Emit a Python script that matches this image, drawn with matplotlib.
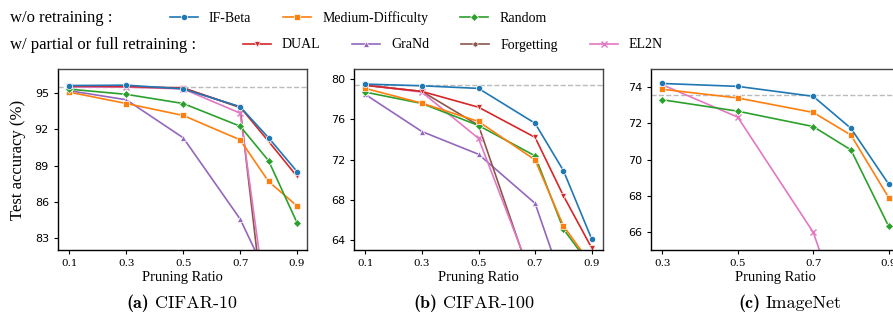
import numpy as np
import matplotlib
matplotlib.use("Agg")
import matplotlib.pyplot as plt

# ---------------- data ----------------
x_cifar = [0.1, 0.3, 0.5, 0.7, 0.8, 0.9]
x_imnet = [0.3, 0.5, 0.7, 0.8, 0.9]

c10_ifbeta = [95.63, 95.66, 95.35, 93.87, 91.30, 88.50]
c10_medium = [95.08, 94.14, 93.15, 91.13, 87.68, 85.65]
c10_random = [95.33, 94.90, 94.14, 92.26, 89.40, 84.26]
c10_dual = [95.60, 95.55, 95.40, 93.85, 91.00, 88.10]
c10_grand = [95.20, 94.45, 91.30, 84.57, 79.60, 75.00]
c10_forget = [95.50, 95.50, 95.45, 93.80, 73.50, 70.00]
c10_el2n = [95.50, 95.50, 95.35, 93.34, 76.10, 72.00]
c10_full = 95.5

c100_ifbeta = [79.50, 79.33, 79.07, 75.60, 70.90, 64.10]
c100_medium = [79.07, 77.60, 75.78, 71.96, 65.40, 61.50]
c100_random = [78.70, 77.57, 75.38, 72.36, 65.08, 61.30]
c100_dual = [79.37, 78.77, 77.20, 74.20, 68.40, 63.20]
c100_grand = [78.47, 74.78, 72.52, 67.64, 59.50, 55.00]
c100_forget = [79.40, 78.77, 75.40, 59.00, 55.00, 50.00]
c100_el2n = [79.40, 78.70, 74.10, 59.50, 55.00, 50.00]
c100_full = 79.36

in_ifbeta = [74.20, 74.04, 73.49, 71.72, 68.64]
in_medium = [73.88, 73.40, 72.60, 71.35, 67.89]
in_random = [73.30, 72.67, 71.82, 70.53, 66.31]
in_el2n = [74.13, 72.34, 65.98, 60.00, 55.00]
in_full = 73.56

# ---------------- styles ----------------
styles = {
    'IF-Beta': dict(color='tab:blue', marker='o', ms=4.5),
    'Medium-Difficulty': dict(color='tab:orange', marker='s', ms=4.5),
    'Random': dict(color='tab:green', marker='D', ms=4),
    'DUAL': dict(color='tab:red', marker='v', ms=4.5),
    'GraNd': dict(color='tab:purple', marker='^', ms=4.5),
    'Forgetting': dict(color='tab:brown', marker='h', ms=4),
    'EL2N': dict(color='tab:pink', marker='x', ms=4),
}

fig = plt.figure(figsize=(8.93, 3.2), dpi=100)
W, H = 893.0, 320.0

def make_ax(left_px):
    return fig.add_axes([left_px / W, (H - 250) / H, 249 / W, 181 / H])

ax1 = make_ax(58)
ax2 = make_ax(354)
ax3 = make_ax(651)

def plot(ax, x, y, name):
    st = styles[name]
    ax.plot(x, y, color=st['color'], marker=st['marker'], markersize=st['ms'],
            markeredgecolor='white' if st['marker'] != 'x' else st['color'],
            markeredgewidth=0.5 if st['marker'] != 'x' else 1.0,
            lw=1.2, label=name)

# panel 1
for name, vals in [('GraNd', c10_grand), ('Forgetting', c10_forget), ('EL2N', c10_el2n),
                   ('DUAL', c10_dual), ('Medium-Difficulty', c10_medium),
                   ('Random', c10_random), ('IF-Beta', c10_ifbeta)]:
    plot(ax1, x_cifar, vals, name)
ax1.axhline(c10_full, color='#bbbbbb', ls='--', lw=1.0, zorder=0)
ax1.set_ylim(82, 97)
ax1.set_yticks([83, 86, 89, 92, 95])
ax1.set_xlim(0.06, 0.935)
ax1.set_xticks([0.1, 0.3, 0.5, 0.7, 0.9])

# panel 2
for name, vals in [('GraNd', c100_grand), ('Forgetting', c100_forget), ('EL2N', c100_el2n),
                   ('DUAL', c100_dual), ('Random', c100_random),
                   ('Medium-Difficulty', c100_medium), ('IF-Beta', c100_ifbeta)]:
    plot(ax2, x_cifar, vals, name)
ax2.axhline(c100_full, color='#bbbbbb', ls='--', lw=1.0, zorder=0)
ax2.set_ylim(63, 81)
ax2.set_yticks([64, 68, 72, 76, 80])
ax2.set_xlim(0.06, 0.94)
ax2.set_xticks([0.1, 0.3, 0.5, 0.7, 0.9])

# panel 3
for name, vals in [('EL2N', in_el2n), ('Random', in_random),
                   ('Medium-Difficulty', in_medium), ('IF-Beta', in_ifbeta)]:
    plot(ax3, x_imnet, vals, name)
ax3.axhline(in_full, color='#bbbbbb', ls='--', lw=1.0, zorder=0)
ax3.set_ylim(65, 75)
ax3.set_yticks([66, 68, 70, 72, 74])
ax3.set_xlim(0.27, 0.93)
ax3.set_xticks([0.3, 0.5, 0.7, 0.9])

for ax in (ax1, ax2, ax3):
    for s in ('left', 'bottom'):
        ax.spines[s].set_color('black')
        ax.spines[s].set_linewidth(1.0)
    for s in ('top', 'right'):
        ax.spines[s].set_color('#444444')
        ax.spines[s].set_linewidth(1.0)
    ax.tick_params(axis='y', labelsize=8, length=3, width=0.8)
    ax.tick_params(axis='x', labelsize=7.5, length=3, width=0.8)
    for lab in ax.get_xticklabels():
        lab.set_family('DejaVu Serif')
    ax.set_xlabel('Pruning Ratio', family='Liberation Serif', fontsize=10.5, labelpad=2)

fig.text(18 / W, 1 - 159.5 / H, 'Test accuracy (%)', rotation=90, ha='center', va='center',
         family='Liberation Serif', fontsize=12)

# captions
for split, lab, name in [(151, '(a)', 'CIFAR-10'), (439, '(b)', 'CIFAR-100'), (762, '(c)', 'ImageNet')]:
    fig.text((split - 2) / W, 1 - 303 / H, lab, ha='right', va='center',
             family='cmb10', fontsize=13)
    fig.text((split + 4) / W, 1 - 303 / H, name, ha='left', va='center',
             family='cmr10', fontsize=13)

# legends
h = {l.get_label(): l for l in ax1.get_lines()}
fig.text(10 / W, 1 - 18 / H, 'w/o retraining :', family='Liberation Serif', fontsize=12,
         ha='left', va='center')
fig.text(10 / W, 1 - 45 / H, 'w/ partial or full retraining :', family='Liberation Serif',
         fontsize=12, ha='left', va='center')
row1 = ['IF-Beta', 'Medium-Difficulty', 'Random']
row2 = ['DUAL', 'GraNd', 'Forgetting', 'EL2N']
fig.legend([h[n] for n in row1], row1, loc='center left', bbox_to_anchor=(170 / W, 1 - 18 / H),
           ncol=3, frameon=False, borderpad=0, borderaxespad=0, columnspacing=2.3,
           handlelength=2.0, handletextpad=0.8, prop={'family': 'Liberation Serif', 'size': 10})
fig.legend([h[n] for n in row2], row2, loc='center left', bbox_to_anchor=(243 / W, 1 - 45 / H),
           ncol=4, frameon=False, borderpad=0, borderaxespad=0, columnspacing=2.3,
           handlelength=2.0, handletextpad=0.8, prop={'family': 'Liberation Serif', 'size': 10})

fig.savefig('out.png', dpi=100)
